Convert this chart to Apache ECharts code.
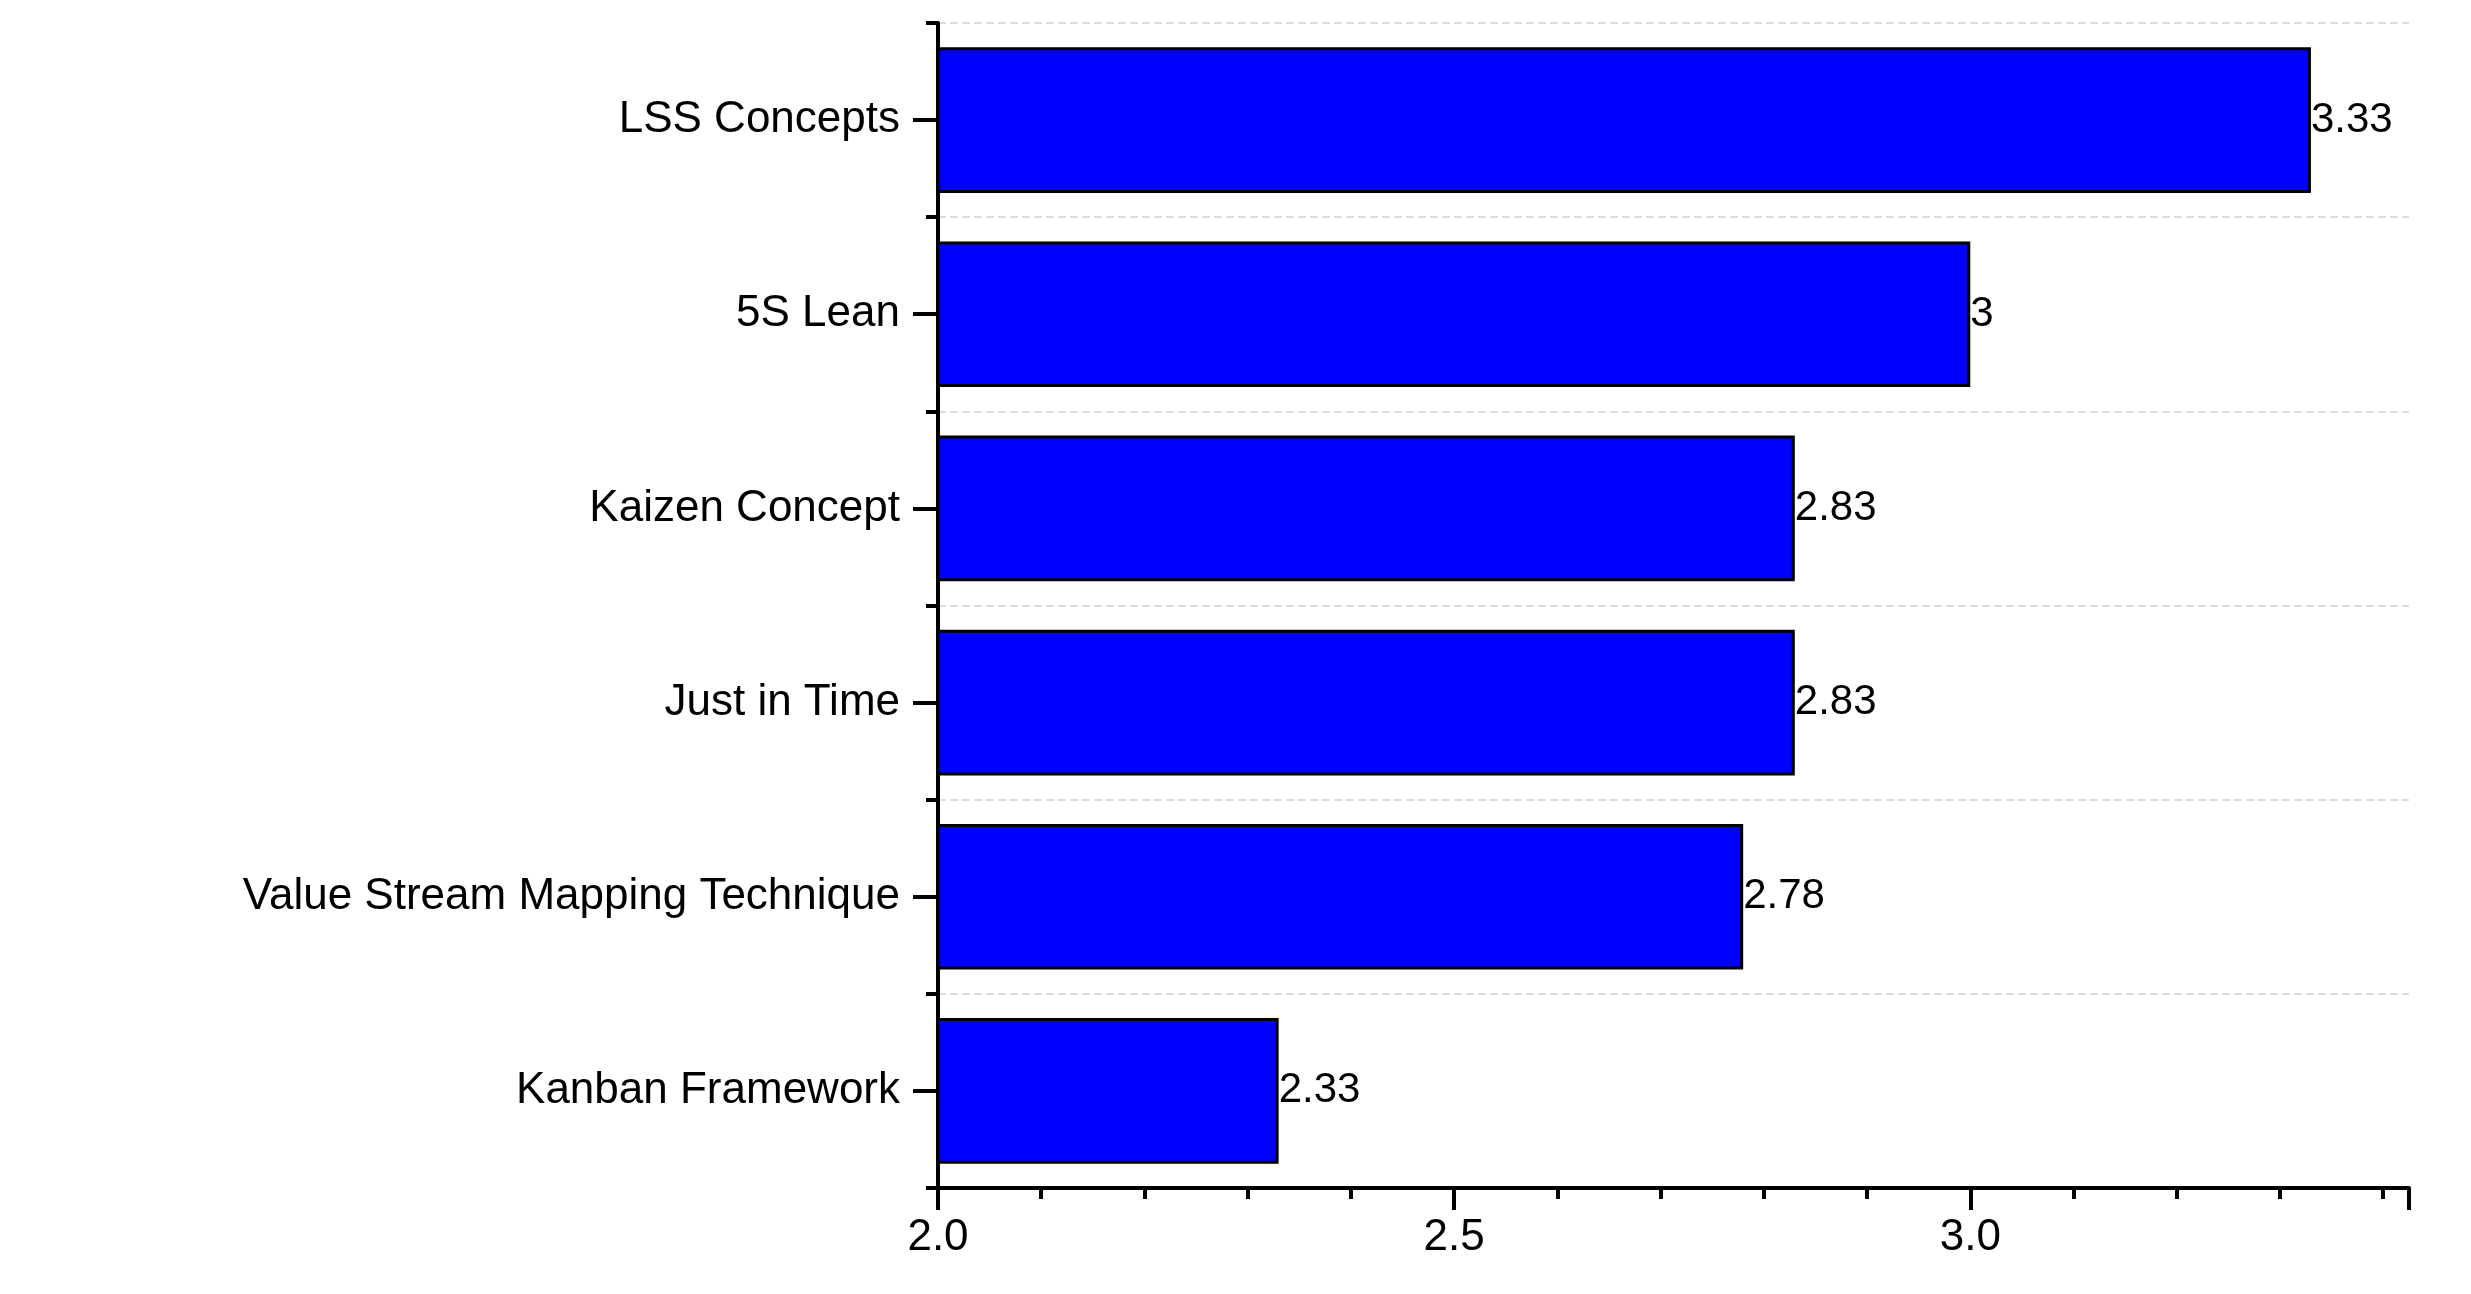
<!DOCTYPE html><html><head><meta charset="utf-8"><script src="https://cdn.jsdelivr.net/npm/echarts@6/dist/echarts.min.js"></script>
<style>html,body{margin:0;background:#fff}#c{width:2471px;height:1294px}</style></head><body><div id="c"></div><script>
const categories=["Kanban Framework","Value Stream Mapping Technique","Just in Time","Kaizen Concept","5S Lean","LSS Concepts"];
const values=[2.33,2.78,2.83,2.83,3,3.33];
const xTicks=[2.0,2.5,3.0];
const F='"Liberation Sans", Arial, sans-serif';
const ch=echarts.init(document.getElementById('c'));
ch.setOption({animation:false,
grid:{left:938,right:62,top:23,bottom:106},
xAxis:{type:'value',min:2.0,max:3.425,interval:0.5,
 axisLine:{show:true,lineStyle:{color:'#000',width:4}},
 axisTick:{show:true,length:22,lineStyle:{color:'#000',width:4}},
 minorTick:{show:true,splitNumber:5,length:11,lineStyle:{color:'#000',width:4}},
 axisLabel:{fontFamily:F,fontSize:44,color:'#000',margin:28,showMaxLabel:false,formatter:v=>xTicks.some(t=>Math.abs(t-v)<1e-6)?v.toFixed(1):''},
 splitLine:{show:false}},
yAxis:[{type:'category',data:categories,
 axisLine:{show:true,lineStyle:{color:'#000',width:4}},
 axisTick:{show:true,alignWithLabel:true,length:25,lineStyle:{color:'#000',width:4}},
 axisLabel:{fontFamily:F,fontSize:44,color:'#000',margin:38},
 splitLine:{show:true,lineStyle:{color:'#ddd',type:'dashed',width:2}}},
 {type:'category',data:categories,position:'left',
 axisLine:{show:false},axisLabel:{show:false},
 axisTick:{show:true,length:12,lineStyle:{color:'#000',width:4}},splitLine:{show:false}}],
series:[{type:'bar',data:values,barCategoryGap:'25%',
 itemStyle:{color:'#0000ff',borderColor:'#000',borderWidth:3},
 label:{show:true,position:'right',distance:0,fontFamily:F,fontSize:42,color:'#000'}}]
});
</script></body></html>
